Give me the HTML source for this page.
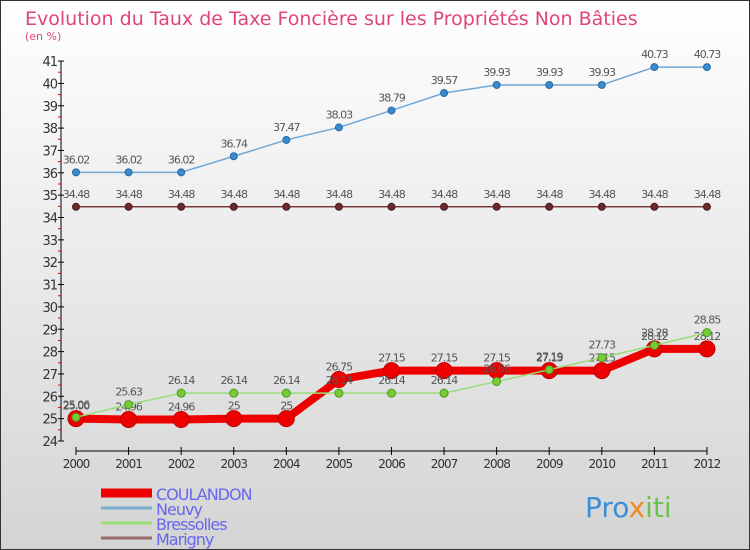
<!DOCTYPE html>
<html><head><meta charset="utf-8"><style>
body{margin:0}
#c{width:748px;height:548px;border:1px solid #333;background:linear-gradient(#fff,#d4d4d4);position:relative;font-family:"DejaVu Sans","Liberation Sans",sans-serif;overflow:hidden}
svg text{font-family:"DejaVu Sans","Liberation Sans",sans-serif}
</style></head><body>
<div id="c">
<svg id="s" width="748" height="548">
<text x="24" y="24" font-size="19" fill="#e0457a">Evolution du Taux de Taxe Foncière sur les Propriétés Non Bâties</text>
<text x="24" y="39" font-size="11" fill="#e0457a">(en %)</text>
<g id="g"></g>
<text x="584" y="516" font-size="28" fill="#3b8fd8">Pro<tspan fill="#f08a1c">x</tspan><tspan fill="#6cc24a">iti</tspan></text>
</svg></div>
<script>
const years=[2000,2001,2002,2003,2004,2005,2006,2007,2008,2009,2010,2011,2012];
const coulandon=[25.00,24.96,24.96,25,25,26.75,27.15,27.15,27.15,27.15,27.15,28.12,28.12];
const neuvy=[36.02,36.02,36.02,36.74,37.47,38.03,38.79,39.57,39.93,39.93,39.93,40.73,40.73];
const bressolles=[25.06,25.63,26.14,26.14,26.14,26.14,26.14,26.14,26.66,27.19,27.73,28.28,28.85];
const marigny=[34.48,34.48,34.48,34.48,34.48,34.48,34.48,34.48,34.48,34.48,34.48,34.48,34.48];
const yTicks=[24,25,26,27,28,29,30,31,32,33,34,35,36,37,38,39,40,41];
const NS="http://www.w3.org/2000/svg",g=document.getElementById('g');
const X=i=>75+i*52.58, Y=v=>440-(v-24)*22.35;
function el(t,a,p){const e=document.createElementNS(NS,t);for(const k in a)e.setAttribute(k,a[k]);(p||g).appendChild(e);return e;}
let e;
e=el('line',{x1:60,y1:Y(41),x2:60,y2:Y(24),stroke:'#000'});


e=el('line',{x1:75,y1:450,x2:X(12),y2:450,stroke:'#000'});


yTicks.forEach(v=>{
 el('line',{x1:57,y1:Y(v),x2:63,y2:Y(v),stroke:'#000'});
 if(v<41)el('line',{x1:57,y1:Y(v+0.5),x2:60,y2:Y(v+0.5),stroke:'#e00'});
 e=el('text',{x:56,y:Y(v)+5,'font-size':13,'text-anchor':'end',fill:'#333','letter-spacing':'-1'});
 e.textContent=v;
 
 
});
years.forEach((y,i)=>{
 el('line',{x1:X(i),y1:446,x2:X(i),y2:454,stroke:'#000'});
 e=el('text',{x:X(i),y:467,'font-size':12,'text-anchor':'middle',fill:'#333','letter-spacing':'-1'});
 e.textContent=y;
 
 
});
function series(d,name,col,w,r,fill,stroke){
 const pts=d.map((v,i)=>X(i)+','+Y(v)).join(' ');
 e=el('polyline',{points:pts,fill:'none',stroke:col,'stroke-width':w,'stroke-linejoin':'round'});
 
 
 d.forEach((v,i)=>{
  e=el('circle',{cx:X(i),cy:Y(v),r:r,fill:fill,stroke:stroke});
  
  
  e=el('text',{x:X(i),y:Y(v)-9,'font-size':11,'text-anchor':'middle',fill:'#555','letter-spacing':'-1'});
  e.textContent=v.toFixed(2).replace(/0$/,'').replace(/\.0$/,'').replace(/\.$/,'');
  if(name==='coulandon'&&i===0)e.textContent='25.00';
  
  
 });
}
series(marigny,'marigny','#7a3a3a',1.5,3.5,'#6b2a2a','#4a1a1a');
series(neuvy,'neuvy','#6fa8d8',1.5,3.5,'#3a8ad0','#2a6aa0');
series(coulandon,'coulandon','#ee0000',8,8,'#ee0000','#c00000');
series(bressolles,'bressolles','#99dd77',1.5,4,'#77cc33','#4a9a22');
const leg=[['COULANDON','#ee0000',9],['Neuvy','#7aaed0',3],['Bressolles','#99dd77',3],['Marigny','#9a6a6a',3]];
leg.forEach((l,i)=>{
 const y=492+i*15;
 e=el('line',{x1:100,y1:y,x2:151,y2:y,stroke:l[1],'stroke-width':l[2]});
 
 
 e=el('text',{x:155,y:y+7,'font-size':16,fill:'#6666ee','letter-spacing':'-1'});
 e.textContent=l[0];
 
 
});
</script></body></html>
